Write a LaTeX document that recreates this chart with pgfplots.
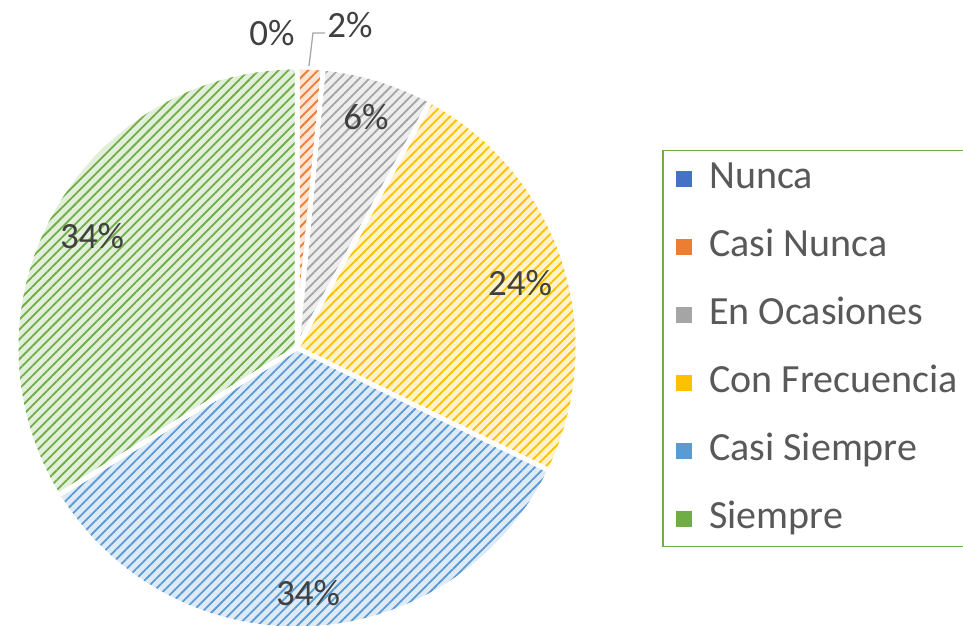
\documentclass[border=0pt]{standalone}
\usepackage{pgfplots}
\pgfplotsset{compat=1.18}
\usepackage{pgfplotstable}
\usepackage{fontspec}
\setmainfont{Carlito}
\usetikzlibrary{patterns.meta}

\definecolor{cNunca}{RGB}{68,114,196}
\definecolor{cCasiNunca}{RGB}{237,125,49}
\definecolor{cOcasiones}{RGB}{165,165,165}
\definecolor{cFrecuencia}{RGB}{255,192,0}
\definecolor{cCasiSiempre}{RGB}{91,155,213}
\definecolor{cSiempre}{RGB}{112,173,71}
\definecolor{labelgray}{RGB}{64,64,64}
\definecolor{legendtext}{RGB}{89,89,89}
\definecolor{leader}{RGB}{166,166,166}

% share of each category (percent), clockwise from 12 o'clock
\pgfplotstableread{
category pct
Nunca 0
CasiNunca 1.5
EnOcasiones 6.4
ConFrecuencia 24.3
CasiSiempre 34.0
Siempre 33.8
}\piedata

\newcommand\getpct[2]{\pgfplotstablegetelem{#1}{pct}\of\piedata\let#2\pgfplotsretval}

\tikzset{
  slice/.style={
    preaction={fill=#1!20},
    preaction={pattern={Lines[angle=45,distance=7bp,line width=1.8bp]}, pattern color=#1},
    draw=white, line width=4.5bp, line join=round},
  lbl/.style={font=\fontsize{37bp}{44bp}\selectfont, text=labelgray, inner sep=0pt}
}

\begin{document}
\begin{tikzpicture}
\getpct{0}{\pA}\getpct{1}{\pB}\getpct{2}{\pC}\getpct{3}{\pD}\getpct{4}{\pE}\getpct{5}{\pF}
\pgfmathsetmacro\Aa{90}
\pgfmathsetmacro\Ab{\Aa-3.6*\pA}
\pgfmathsetmacro\Ac{\Ab-3.6*\pB}
\pgfmathsetmacro\Ad{\Ac-3.6*\pC}
\pgfmathsetmacro\Ae{\Ad-3.6*\pD}
\pgfmathsetmacro\Af{\Ae-3.6*\pE}
\pgfmathsetmacro\Ag{\Af-3.6*\pF}
\useasboundingbox (0,0) rectangle (963bp,626bp);
\clip (0,0) rectangle (963bp,626bp);
\begin{axis}[
  at={(0,0)}, anchor=south west,
  hide axis, scale only axis,
  xtick=\empty, ytick=\empty,
  width=963bp, height=626bp,
  xmin=0, xmax=963, ymin=0, ymax=626,
  clip=false,
  legend image code/.code={\path (0bp,0bp); \fill[#1] (0bp,2bp) rectangle (15bp,17bp);},
  legend style={
    overlay,
    at={(axis cs:662,476)}, anchor=north west,
    draw=cSiempre, line width=1.5bp,
    font=\fontsize{40bp}{48bp}\selectfont, text=legendtext,
    inner xsep=13bp, inner ysep=1bp,
    row sep=14bp,
    nodes={inner sep=0bp, text height=37bp, text depth=17bp, anchor=base west},
    /tikz/every odd column/.append style={column sep=17bp},
  },
]
\def\cx{297}\def\cy{278}\def\R{281}
\addplot[forget plot, slice=cCasiNunca, domain=\Ac:\Ab, samples=20, variable=\t]
  ({\cx+\R*cos(\t)}, {\cy+\R*sin(\t)}) -- (axis cs:\cx,\cy) -- cycle;
\addplot[forget plot, slice=cOcasiones, domain=\Ad:\Ac, samples=40, variable=\t]
  ({\cx+\R*cos(\t)}, {\cy+\R*sin(\t)}) -- (axis cs:\cx,\cy) -- cycle;
\addplot[forget plot, slice=cFrecuencia, domain=\Ae:\Ad, samples=90, variable=\t]
  ({\cx+\R*cos(\t)}, {\cy+\R*sin(\t)}) -- (axis cs:\cx,\cy) -- cycle;
\addplot[forget plot, slice=cCasiSiempre, domain=\Af:\Ae, samples=120, variable=\t]
  ({\cx+\R*cos(\t)}, {\cy+\R*sin(\t)}) -- (axis cs:\cx,\cy) -- cycle;
\addplot[forget plot, slice=cSiempre, domain=\Ag:\Af, samples=120, variable=\t]
  ({\cx+\R*cos(\t)}, {\cy+\R*sin(\t)}) -- (axis cs:\cx,\cy) -- cycle;
% leader line of the 2% label
\addplot[forget plot, draw=leader, line width=1.3bp] coordinates {(309,560) (313,593) (325,593)};

\node[lbl] at (axis cs:272,593) {0\%};
\node[lbl] at (axis cs:350,601) {2\%};
\node[lbl] at (axis cs:366,509) {6\%};
\node[lbl] at (axis cs:520,343) {24\%};
\node[lbl] at (axis cs:92,390) {34\%};
\node[lbl] at (axis cs:308,33) {34\%};

\addlegendimage{cNunca}\addlegendentry{Nunca}
\addlegendimage{cCasiNunca}\addlegendentry{Casi Nunca}
\addlegendimage{cOcasiones}\addlegendentry{En Ocasiones}
\addlegendimage{cFrecuencia}\addlegendentry{Con Frecuencia}
\addlegendimage{cCasiSiempre}\addlegendentry{Casi Siempre}
\addlegendimage{cSiempre}\addlegendentry{Siempre}
\end{axis}
\end{tikzpicture}
\end{document}
